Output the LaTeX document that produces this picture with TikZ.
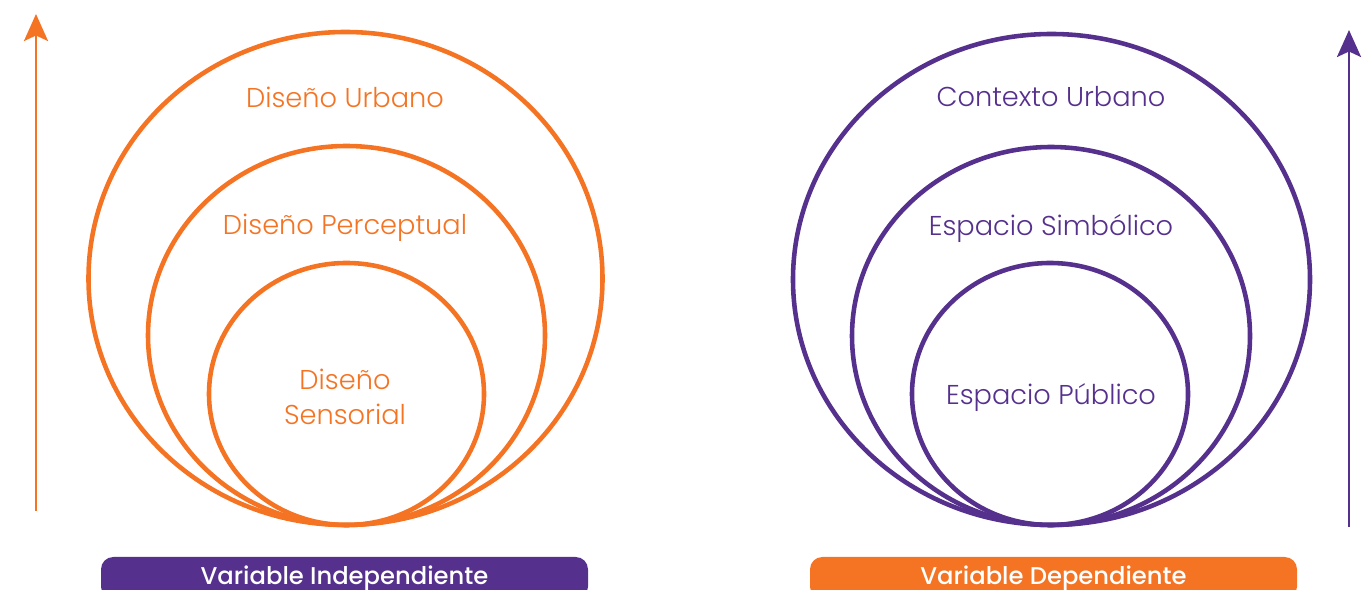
\documentclass[tikz,border=0pt]{standalone}
\usepackage{fontspec}
\setmainfont{Poppins}
\newfontfamily\lightfont{Poppins Light}
\newfontfamily\midfont{Poppins Medium}
\usetikzlibrary{arrows.meta,positioning,calc}

\definecolor{naranja}{HTML}{F47424}
\definecolor{morado}{HTML}{55308D}

\tikzset{
  ring/.style={line width=2.6pt},
  rotulo/.style={font=\lightfont\fontsize{15.5}{20}\selectfont, align=center},
  pastilla/.style={rounded corners=7pt, minimum width=487*0.02cm, minimum height=42*0.02cm,
    inner sep=0pt, text=white, font=\midfont\fontsize{13.8}{16}\selectfont},
  eje/.style={line width=1.6pt, -{Stealth[length=5.4mm, width=4.8mm, inset=1.1mm]}}
}

\begin{document}
\begin{tikzpicture}[x=0.02cm, y=-0.02cm, line join=round]
\useasboundingbox (0,0) rectangle (1370,590);
% ejes
\coordinate (a1) at (36,511);
\coordinate (a2) at (36,14);
\coordinate (b1) at (1349,527);
\coordinate (b2) at (1349,30);
\draw[eje, naranja] (a1) -- (a2);
\draw[eje, morado] (b1) -- (b2);
% circulos izquierda
\draw[ring, naranja] (345.5,278.5) ellipse [x radius=257, y radius=246.5];
\draw[ring, naranja] (346.5,335.5) ellipse [x radius=198.5, y radius=189.5];
\draw[ring, naranja] (346.5,394) ellipse [x radius=137.5, y radius=131];
% circulos derecha
\draw[ring, morado] (1051.5,279.5) ellipse [x radius=258.5, y radius=245.5];
\draw[ring, morado] (1051,336) ellipse [x radius=199, y radius=189];
\draw[ring, morado] (1050,394) ellipse [x radius=138, y radius=131];
% textos
\node[rotulo, text=naranja] (urb) at (345,97) {Diseño Urbano};
\node[rotulo, text=naranja] (per) at (345,228) {Diseño Perceptual};
\node[rotulo, text=naranja] (sen) at (345,397) {Diseño\\Sensorial};
\node[rotulo, text=morado] (ctx) at (1051,97) {Contexto Urbano};
\node[rotulo, text=morado] (sim) at (1051,228) {Espacio Simbólico};
\node[rotulo, text=morado] (pub) at (1051,398) {Espacio Público};
% variables
\node[pastilla, fill=morado] (ind) at (344.5,578) {Variable Independiente};
\node[pastilla, fill=naranja] (dep) at (1053.5,578) {Variable Dependiente};
\end{tikzpicture}
\end{document}
